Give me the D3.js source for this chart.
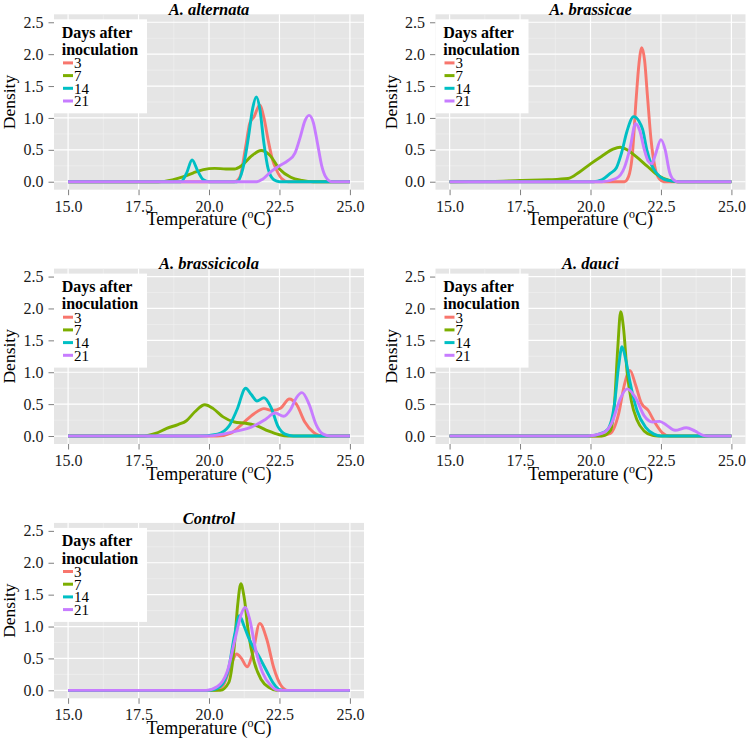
<!DOCTYPE html>
<html><head><meta charset="utf-8">
<script src="https://cdn.jsdelivr.net/npm/d3@7"></script>
<style>body{margin:0;background:#fff}svg{display:block}</style>
</head><body><svg id="c" width="748" height="740"></svg>
<script>
const panelTitles = ["A. alternata","A. brassicae","A. brassicicola","A. dauci","Control"];
const dayLabels = ["3","7","14","21"];
const dayColors = ["#F8766D","#7CAE00","#00BFC4","#C77CFF"];
const xTicks = [15,17.5,20,22.5,25];
const yTicks = [0,0.5,1,1.5,2,2.5];
const xMinor = [16.25,18.75,21.25,23.75];
const yMinor = [0.25,0.75,1.25,1.75,2.25];

// each: [day3, day7, day14, day21], points [temperature, density]
const alternata = [
  [[15,0],[20.9,0],[21.1,0.08],[21.3,0.55],[21.45,0.92],[21.6,1.02],[21.8,1.2],[21.95,1.0],[22.1,0.65],[22.25,0.35],[22.4,0.18],[22.6,0.04],[22.8,0],[25,0]],
  [[15,0],[18.2,0],[18.7,0.03],[19.1,0.08],[19.45,0.14],[19.8,0.19],[20.2,0.21],[20.6,0.2],[20.9,0.2],[21.15,0.25],[21.5,0.4],[21.85,0.49],[22.15,0.42],[22.5,0.2],[22.9,0.07],[23.3,0.02],[23.7,0],[25,0]],
  [[15,0],[19.0,0],[19.2,0.13],[19.4,0.34],[19.6,0.17],[19.8,0.03],[20.0,0],[21.0,0],[21.2,0.2],[21.4,0.7],[21.55,1.15],[21.68,1.33],[21.8,1.15],[21.95,0.6],[22.1,0.2],[22.3,0.03],[22.5,0],[25,0]],
  [[15,0],[21.7,0],[21.9,0.04],[22.2,0.16],[22.5,0.25],[22.8,0.33],[23.05,0.45],[23.25,0.72],[23.4,0.95],[23.55,1.04],[23.7,0.93],[23.85,0.6],[24.0,0.25],[24.15,0.07],[24.35,0],[25,0]]
];
const brassicae = [
  [[15,0],[21.2,0],[21.35,0.08],[21.48,0.4],[21.62,1.3],[21.72,1.85],[21.82,2.1],[21.92,1.9],[22.02,1.35],[22.15,0.65],[22.3,0.2],[22.45,0.04],[22.6,0],[25,0]],
  [[15,0],[16.5,0.005],[17.5,0.02],[18.5,0.03],[19.2,0.05],[19.6,0.15],[20.0,0.28],[20.4,0.4],[20.8,0.51],[21.05,0.54],[21.3,0.5],[21.6,0.4],[22.0,0.25],[22.4,0.1],[22.8,0.02],[23.1,0],[25,0]],
  [[15,0],[20.1,0],[20.4,0.03],[20.7,0.13],[20.92,0.22],[21.1,0.45],[21.3,0.8],[21.53,1.02],[21.72,0.95],[21.85,0.82],[22.0,0.5],[22.15,0.28],[22.35,0.13],[22.6,0.04],[22.9,0.01],[23.1,0],[25,0]],
  [[15,0],[20.4,0],[20.9,0.05],[21.2,0.22],[21.4,0.52],[21.6,0.91],[21.75,0.8],[21.9,0.52],[22.05,0.32],[22.17,0.28],[22.3,0.42],[22.5,0.66],[22.65,0.5],[22.8,0.16],[22.95,0.03],[23.1,0],[25,0]]
];
const brassicicola = [
  [[15,0],[20.3,0],[20.8,0.05],[21.2,0.2],[21.6,0.35],[21.95,0.43],[22.25,0.4],[22.55,0.44],[22.85,0.58],[23.1,0.5],[23.4,0.22],[23.7,0.06],[24.0,0],[25,0]],
  [[15,0],[17.7,0],[18.1,0.04],[18.5,0.12],[18.9,0.18],[19.2,0.24],[19.5,0.38],[19.85,0.49],[20.15,0.43],[20.5,0.3],[20.9,0.22],[21.3,0.2],[21.7,0.16],[22.1,0.08],[22.5,0.02],[22.8,0],[25,0]],
  [[15,0],[19.6,0],[20.3,0.03],[20.7,0.15],[21.0,0.42],[21.3,0.75],[21.5,0.65],[21.7,0.55],[21.95,0.6],[22.2,0.45],[22.45,0.15],[22.7,0.03],[23.0,0],[25,0]],
  [[15,0],[19.9,0],[20.5,0.03],[21.0,0.08],[21.5,0.14],[22.0,0.26],[22.35,0.36],[22.65,0.31],[22.9,0.42],[23.1,0.6],[23.3,0.68],[23.55,0.5],[23.8,0.18],[24.05,0.03],[24.3,0],[25,0]]
];
const dauci = [
  [[15,0],[20.3,0],[20.7,0.04],[21.0,0.35],[21.2,0.8],[21.4,1.03],[21.6,0.8],[21.8,0.52],[22.05,0.4],[22.3,0.2],[22.55,0.05],[22.8,0],[25,0]],
  [[15,0],[20.4,0],[20.7,0.08],[20.85,0.5],[20.97,1.4],[21.07,1.95],[21.17,1.7],[21.3,1.0],[21.45,0.55],[21.65,0.25],[21.9,0.08],[22.2,0.01],[22.4,0],[25,0]],
  [[15,0],[19.9,0],[20.3,0.03],[20.6,0.1],[20.85,0.5],[21.0,1.1],[21.12,1.4],[21.25,1.2],[21.4,0.85],[21.65,0.4],[21.95,0.14],[22.25,0.03],[22.5,0],[25,0]],
  [[15,0],[19.9,0],[20.4,0.04],[20.75,0.2],[21.05,0.58],[21.3,0.74],[21.6,0.6],[21.9,0.32],[22.2,0.22],[22.45,0.23],[22.7,0.17],[23.0,0.09],[23.4,0.13],[23.7,0.08],[24.0,0.01],[24.2,0],[25,0]]
];
const control = [
  [[15,0],[20.2,0],[20.5,0.08],[20.75,0.35],[20.98,0.57],[21.15,0.5],[21.35,0.37],[21.55,0.58],[21.8,1.05],[22.05,0.8],[22.3,0.35],[22.55,0.08],[22.8,0],[25,0]],
  [[15,0],[20.4,0],[20.7,0.12],[20.9,0.7],[21.02,1.35],[21.13,1.67],[21.25,1.45],[21.4,0.9],[21.6,0.45],[21.85,0.17],[22.15,0.04],[22.4,0],[25,0]],
  [[15,0],[20.0,0],[20.4,0.06],[20.7,0.35],[20.9,0.85],[21.08,1.17],[21.25,1.0],[21.45,0.78],[21.75,0.55],[22.05,0.3],[22.3,0.1],[22.5,0.01],[22.7,0],[25,0]],
  [[15,0],[19.9,0],[20.3,0.06],[20.65,0.3],[20.95,0.85],[21.15,1.2],[21.28,1.3],[21.45,1.1],[21.65,0.65],[21.9,0.28],[22.2,0.07],[22.45,0],[25,0]]
];
const panelData = [alternata, brassicae, brassicicola, dauci, control];

const svg = d3.select("#c");
const FONT = "'Liberation Serif','Times New Roman',serif";
const colLeft = [54, 435.5], plotW = 310;
const rowTop = [14.3, 268.6, 522.9], plotH = 175.4;

panelData.forEach((series, i) => {
  const L = colLeft[i % 2], T = rowTop[Math.floor(i / 2)];
  const x = d3.scaleLinear().domain([14.5, 25.5]).range([L, L + plotW]);
  const y = d3.scaleLinear().domain([-0.125, 2.625]).range([T + plotH, T]);
  const g = svg.append("g");
  g.append("rect").attr("x", L).attr("y", T).attr("width", plotW).attr("height", plotH).attr("fill", "#E5E5E5");
  g.selectAll(".vm").data(xMinor).join("line").attr("x1", d => x(d)).attr("x2", d => x(d)).attr("y1", T).attr("y2", T + plotH).attr("stroke", "#F2F2F2").attr("stroke-width", 0.6);
  g.selectAll(".hm").data(yMinor).join("line").attr("y1", d => y(d)).attr("y2", d => y(d)).attr("x1", L).attr("x2", L + plotW).attr("stroke", "#F2F2F2").attr("stroke-width", 0.6);
  g.selectAll(".vM").data(xTicks).join("line").attr("x1", d => x(d)).attr("x2", d => x(d)).attr("y1", T).attr("y2", T + plotH).attr("stroke", "#fff").attr("stroke-width", 1.2);
  g.selectAll(".hM").data(yTicks).join("line").attr("y1", d => y(d)).attr("y2", d => y(d)).attr("x1", L).attr("x2", L + plotW).attr("stroke", "#fff").attr("stroke-width", 1.2);

  const xa = g.append("g").attr("transform", `translate(0,${T + plotH})`)
    .call(d3.axisBottom(x).tickValues(xTicks).tickFormat(d3.format(".1f")).tickSize(5.5).tickPadding(5));
  const ya = g.append("g").attr("transform", `translate(${L},0)`)
    .call(d3.axisLeft(y).tickValues(yTicks).tickFormat(d3.format(".1f")).tickSize(5.5).tickPadding(5));
  [xa, ya].forEach(a => {
    a.attr("font-family", FONT).attr("font-size", 16);
    a.select(".domain").remove();
    a.selectAll("line").attr("stroke", "#7f7f7f").attr("stroke-width", 1);
    a.selectAll("text").attr("font-family", FONT).attr("font-size", 16).attr("fill", "#1a1a1a");
  });

  const line = d3.line().x(d => x(d[0])).y(d => y(d[1])).curve(d3.curveMonotoneX);
  series.forEach((pts, k) => {
    g.append("path").attr("d", line(pts)).attr("fill", "none").attr("stroke", dayColors[k])
      .attr("stroke-width", 2.9).attr("stroke-linejoin", "round").attr("stroke-linecap", "butt");
  });

  // title
  g.append("text").attr("x", L + plotW / 2).attr("y", T + 0.6).attr("text-anchor", "middle")
    .attr("font-family", FONT).attr("font-size", 16.5).attr("font-weight", "bold").attr("font-style", "italic")
    .text(panelTitles[i]);
  // x axis title
  const xt = g.append("text").attr("x", L + plotW / 2).attr("y", T + plotH + 35.5).attr("text-anchor", "middle")
    .attr("font-family", FONT).attr("font-size", 18).attr("fill", "#000");
  xt.append("tspan").text("Temperature (");
  xt.append("tspan").attr("font-size", 12).attr("dy", -7).text("o");
  xt.append("tspan").attr("dy", 7).text("C)");
  // y axis title
  g.append("text").attr("transform", `translate(${L - 39},${T + plotH / 2}) rotate(-90)`).attr("text-anchor", "middle")
    .attr("font-family", FONT).attr("font-size", 17.5).attr("fill", "#000").text("Density");

  // legend
  const lg = g.append("g").attr("transform", `translate(${L},${T})`);
  lg.append("rect").attr("x", 0).attr("y", 5).attr("width", 93).attr("height", 94).attr("fill", "#fff");
  lg.append("text").attr("x", 7.7).attr("y", 23.4).attr("font-family", FONT).attr("font-size", 16).attr("font-weight", "bold").text("Days after");
  lg.append("text").attr("x", 7.7).attr("y", 40.7).attr("font-family", FONT).attr("font-size", 16).attr("font-weight", "bold").text("inoculation");
  dayLabels.forEach((lab, k) => {
    const ky = 48.6 + k * 12.7;
    lg.append("line").attr("x1", 9).attr("x2", 19).attr("y1", ky).attr("y2", ky).attr("stroke", dayColors[k]).attr("stroke-width", 3);
    lg.append("text").attr("x", 20).attr("y", ky + 5.5).attr("font-family", FONT).attr("font-size", 15).attr("fill", "#000").text(lab);
  });
});
</script></body></html>
